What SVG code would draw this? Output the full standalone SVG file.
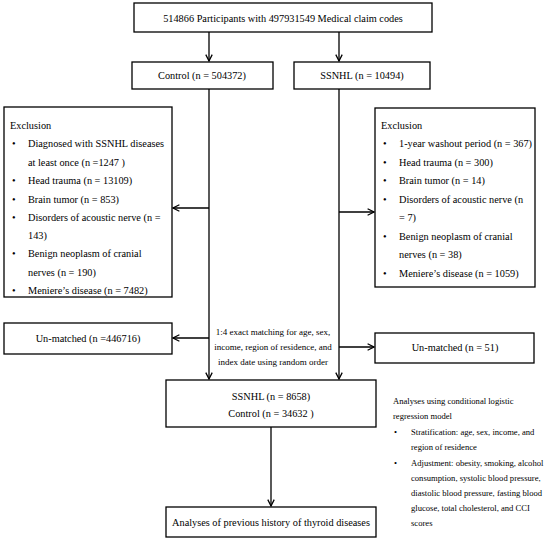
<svg xmlns="http://www.w3.org/2000/svg" width="550" height="542" viewBox="0 0 550 542" font-family="'Liberation Serif', 'DejaVu Serif', serif">
<style>
text{font-family:"Liberation Serif","DejaVu Serif",serif;font-size:10.3px;fill:#000}
.box{fill:#fff;stroke:#000;stroke-width:1.3}
.c{text-anchor:middle}
.s{font-size:9px}
.n{font-size:8.6px}
.ln{stroke:#000;stroke-width:1.3;fill:none}
</style>
<defs>
<marker id="ah" viewBox="0 0 10 10" refX="9" refY="5" markerWidth="8" markerHeight="8" markerUnits="userSpaceOnUse" orient="auto">
<polyline points="1,1 9,5 1,9" fill="none" stroke="#000" stroke-width="1.6"/>
</marker>
</defs>
<rect width="550" height="542" fill="#fff"/>
<g id="connectors">
<line class="ln" x1="209" y1="32" x2="209" y2="61" marker-end="url(#ah)"/>
<line class="ln" x1="339" y1="32" x2="339" y2="61" marker-end="url(#ah)"/>
<line class="ln" x1="209" y1="89" x2="209" y2="379" marker-end="url(#ah)"/>
<line class="ln" x1="339" y1="89" x2="339" y2="379" marker-end="url(#ah)"/>
<line class="ln" x1="209" y1="208" x2="173" y2="208" marker-end="url(#ah)"/>
<line class="ln" x1="339" y1="212" x2="374" y2="212" marker-end="url(#ah)"/>
<line class="ln" x1="209" y1="338" x2="173" y2="338" marker-end="url(#ah)"/>
<line class="ln" x1="339" y1="347" x2="374" y2="347" marker-end="url(#ah)"/>
<line class="ln" x1="271" y1="427" x2="271" y2="506" marker-end="url(#ah)"/>
</g>
<g id="top">
<rect class="box" x="134" y="3" width="298" height="29"/>
<text class="c" x="283" y="22">514866 Participants with  497931549 Medical claim codes</text>
</g>
<g id="control">
<rect class="box" x="132" y="62" width="141" height="27"/>
<text class="c" x="202" y="79">Control (n = 504372)</text>
</g>
<g id="ssnhl">
<rect class="box" x="294" y="62" width="136" height="27"/>
<text class="c" x="362" y="79">SSNHL  (n = 10494)</text>
</g>
<g id="excl-left">
<rect class="box" x="4" y="107" width="168" height="190"/>
<text x="10" y="129">Exclusion</text>
<text x="12" y="147">•</text><text x="28" y="147">Diagnosed with SSNHL diseases</text>
<text x="28" y="166">at least once (n =1247 )</text>
<text x="12" y="184">•</text><text x="28" y="184">Head trauma (n = 13109)</text>
<text x="12" y="202.5">•</text><text x="28" y="202.5">Brain tumor (n = 853)</text>
<text x="12" y="220.5">•</text><text x="28" y="220.5">Disorders of acoustic nerve (n =</text>
<text x="28" y="239">143)</text>
<text x="12" y="257">•</text><text x="28" y="257">Benign neoplasm of cranial</text>
<text x="28" y="275.5">nerves (n = 190)</text>
<text x="12" y="293.5">•</text><text x="28" y="293.5">Meniere’s disease  (n = 7482)</text>
</g>
<g id="excl-right">
<rect class="box" x="375" y="108" width="160" height="179"/>
<text x="381" y="129">Exclusion</text>
<text x="383" y="147">•</text><text x="399" y="147">1-year washout period (n = 367)</text>
<text x="383" y="165.5">•</text><text x="399" y="165.5">Head trauma (n = 300)</text>
<text x="383" y="184">•</text><text x="399" y="184">Brain tumor (n = 14)</text>
<text x="383" y="202.5">•</text><text x="399" y="202.5">Disorders of acoustic nerve (n</text>
<text x="399" y="221">= 7)</text>
<text x="383" y="239.5">•</text><text x="399" y="239.5">Benign neoplasm of cranial</text>
<text x="399" y="258">nerves (n = 38)</text>
<text x="383" y="276.5">•</text><text x="399" y="276.5">Meniere’s disease (n = 1059)</text>
</g>
<g id="match-label">
<text class="c s" x="273" y="335">1:4 exact matching for age, sex,</text>
<text class="c s" x="273" y="350">income, region of residence, and</text>
<text class="c s" x="273" y="365">index date using random order</text>
</g>
<g id="unmatched-left">
<rect class="box" x="4" y="323" width="168" height="31"/>
<text class="c" x="88" y="342">Un-matched (n =446716)</text>
</g>
<g id="unmatched-right">
<rect class="box" x="375" y="333" width="159" height="30"/>
<text class="c" x="455" y="351">Un-matched (n =  51)</text>
</g>
<g id="matched">
<rect class="box" x="166" y="380" width="210" height="47"/>
<text class="c" x="271" y="399.5">SSNHL (n = 8658)</text>
<text class="c" x="271" y="417">Control (n = 34632 )</text>
</g>
<g id="analyses">
<rect class="box" x="166" y="507" width="210" height="30"/>
<text class="c" x="271" y="526">Analyses of previous history of thyroid diseases</text>
</g>
<g id="analysis-notes">
<text class="n" x="393" y="404">Analyses using conditional logistic</text>
<text class="n" x="393" y="419">regression model</text>
<text class="n" x="394" y="435">•</text><text class="n" x="411" y="435">Stratification: age, sex, income, and</text>
<text class="n" x="411" y="450">region of residence</text>
<text class="n" x="394" y="466">•</text><text class="n" x="411" y="466">Adjustment: obesity, smoking, alcohol</text>
<text class="n" x="411" y="481">consumption, systolic blood pressure,</text>
<text class="n" x="411" y="496">diastolic blood pressure, fasting blood</text>
<text class="n" x="411" y="511">glucose, total cholesterol, and CCI</text>
<text class="n" x="411" y="526">scores</text>
</g>
</svg>
